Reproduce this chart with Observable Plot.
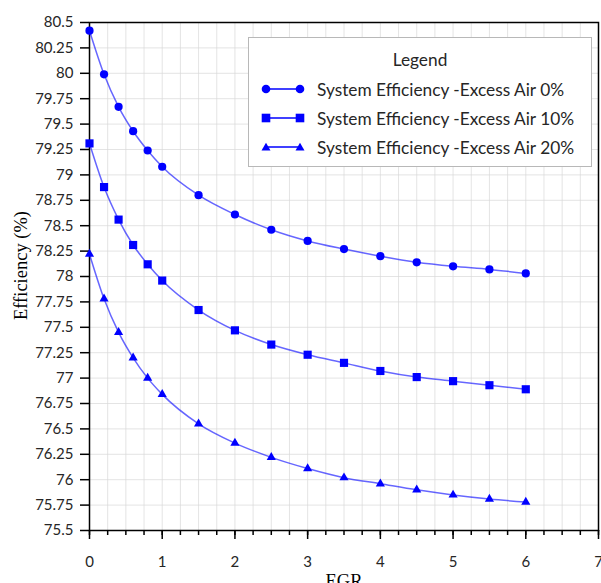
<!DOCTYPE html>
<html>
<head>
<meta charset="utf-8">
<script src="https://cdn.jsdelivr.net/npm/d3@7"></script>
<script src="https://cdn.jsdelivr.net/npm/@observablehq/plot@0.6"></script>
<style>
  html, body { margin: 0; padding: 0; background: #fff; }
  #wrap { position: relative; width: 601px; height: 583px; overflow: hidden; }
  #legend { position: absolute; left: 248px; top: 37px; width: 344px; height: 130px;
    border: 1px solid #b8b8b8; background: #fff; font-family: Lato, sans-serif; font-size: 17.3px; color: #262626; box-sizing: border-box; }
  #legend .title { position: absolute; left: 0; width: 100%; top: 11px; text-align: center; }
  #legend .item { position: absolute; left: 12px; height: 22px; display: flex; align-items: center; }
  #legend .item span { margin-left: 12px; white-space: nowrap; }
</style>
</head>
<body>
<div id="wrap"></div>
<script>
const egr = [0, 0.2, 0.4, 0.6, 0.8, 1, 1.5, 2, 2.5, 3, 3.5, 4, 4.5, 5, 5.5, 6];
const eff0 = [80.42, 79.99, 79.67, 79.43, 79.24, 79.08, 78.80, 78.61, 78.46, 78.35, 78.27, 78.20, 78.14, 78.10, 78.07, 78.03];
const eff10 = [79.31, 78.88, 78.56, 78.31, 78.12, 77.96, 77.67, 77.47, 77.33, 77.23, 77.15, 77.07, 77.01, 76.97, 76.93, 76.89];
const eff20 = [78.22, 77.78, 77.45, 77.20, 77.00, 76.84, 76.55, 76.36, 76.22, 76.11, 76.02, 75.96, 75.90, 75.85, 75.81, 75.78];
const seriesNames = ["System Efficiency -Excess Air 0%", "System Efficiency -Excess Air 10%", "System Efficiency -Excess Air 20%"];
const seriesSymbols = ["circle", "square", "triangle"];
const seriesRadius = [4.1, 4.6, 3.4];
const xTickLabels = [0, 1, 2, 3, 4, 5, 6, 7];
const yTicks = d3.range(75.5, 80.5001, 0.25);
const xMinor = d3.range(0, 7.0001, 0.25);

const data = [];
[eff0, eff10, eff20].forEach((vals, i) => {
  vals.forEach((v, j) => data.push({egr: egr[j], eff: v, series: seriesNames[i], symbol: seriesSymbols[i], r: seriesRadius[i]}));
});

const fmt = d => String(+d.toFixed(2));

const chart = Plot.plot({
  width: 601,
  height: 583,
  marginLeft: 89,
  marginRight: 3,
  marginTop: 22,
  marginBottom: 53,
  style: {fontFamily: "Lato, sans-serif", fontSize: "15px", color: "#262626", background: "#fff"},
  x: {domain: [0, 7]},
  y: {domain: [75.5, 80.5]},
  r: {type: "identity"},
  marks: [
    Plot.gridX(xMinor, {stroke: "#d9d9d9", strokeOpacity: 0.7}),
    Plot.gridY(yTicks, {stroke: "#d9d9d9", strokeOpacity: 0.7}),
    Plot.axisY(yTicks, {tickSize: 9, tickPadding: 7, tickFormat: fmt, label: null, stroke: "#000", strokeWidth: 1.5, fontSize: 15}),
    Plot.axisX(xMinor, {tickSize: 5, tickFormat: () => "", label: null, stroke: "#000", strokeWidth: 1.5}),
    Plot.axisX(xTickLabels, {tickSize: 9, tickPadding: 17, tickFormat: d => String(d), label: null, stroke: "#000", strokeWidth: 1.5, fontSize: 15}),
    Plot.frame({stroke: "#000", strokeWidth: 1.5}),
    Plot.line(data, {x: "egr", y: "eff", z: "series", stroke: "#0000ff", strokeOpacity: 0.6, strokeWidth: 1.5, curve: "monotone-x"}),
    Plot.dot(data, {x: "egr", y: "eff", symbol: "symbol", r: "r", fill: "#0000ff", stroke: "none"}),
    Plot.text(["Efficiency (%)"], {frameAnchor: "left", textAnchor: "middle", rotate: -90, dx: -68, dy: -11, fontFamily: "Liberation Serif, serif", fontSize: 18.5, fill: "#000"}),
    Plot.text(["EGR"], {frameAnchor: "bottom", textAnchor: "middle", dy: 51, lineAnchor: "middle", fontFamily: "Liberation Serif, serif", fontSize: 18.5, fill: "#000"})
  ]
});

const wrap = document.getElementById("wrap");
wrap.appendChild(chart);

// Legend
const legend = document.createElement("div");
legend.id = "legend";
const title = document.createElement("div");
title.className = "title";
title.textContent = "Legend";
legend.appendChild(title);
const symPaths = {
  circle: '<circle cx="0" cy="0" r="4.3"/>',
  square: '<rect x="-4.3" y="-4.3" width="8.6" height="8.6"/>',
  triangle: '<path d="M0,-4.2L4.5,3.5L-4.5,3.5Z"/>'
};
seriesNames.forEach((name, i) => {
  const it = document.createElement("div");
  it.className = "item";
  it.style.top = (40 + i * 29) + "px";
  const s = seriesSymbols[i];
  it.innerHTML = `<svg width="44" height="14" viewBox="-5 -7 44 14" style="overflow:visible">
    <line x1="0" y1="0" x2="34" y2="0" stroke="#0000ff" stroke-width="1.3"/>
    <g fill="#0000ff">${symPaths[s]}</g>
    <g fill="#0000ff" transform="translate(34,0)">${symPaths[s]}</g>
  </svg><span>${name}</span>`;
  legend.appendChild(it);
});
wrap.appendChild(legend);
</script>
</body>
</html>
